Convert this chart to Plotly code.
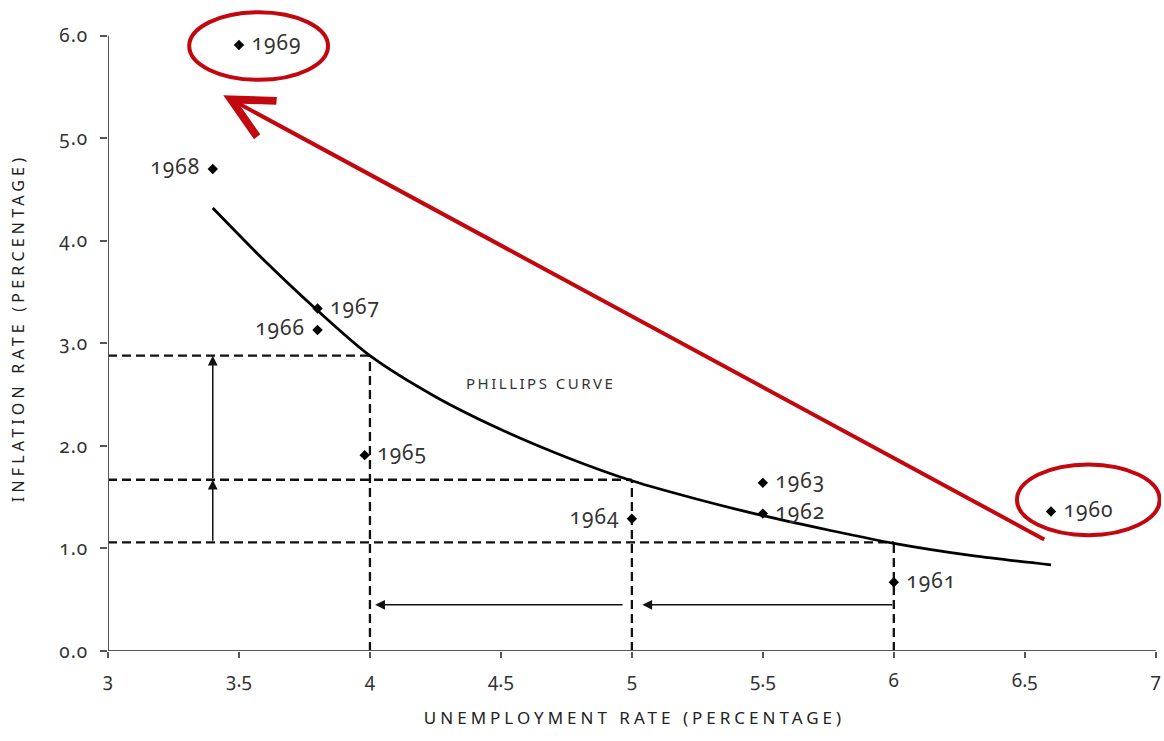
import plotly.graph_objects as go

# ---- data ----
years = ["1960", "1961", "1962", "1963", "1964", "1965", "1966", "1967", "1968", "1969"]
unemployment = [6.6, 6.0, 5.5, 5.5, 5.0, 3.98, 3.8, 3.8, 3.4, 3.5]
inflation = [1.36, 0.67, 1.34, 1.64, 1.29, 1.91, 3.13, 3.34, 4.70, 5.91]
label_side = ["middle right", "middle right", "middle right", "middle right", "middle left",
              "middle right", "middle left", "middle right", "middle left", "middle right"]

curve_u = [3.4, 3.6, 3.8, 4.0, 4.25, 4.5, 4.75, 5.0, 5.25, 5.5, 5.75, 6.0, 6.3, 6.6]
curve_pi = [4.32, 3.80, 3.32, 2.88, 2.48, 2.16, 1.89, 1.66, 1.48, 1.32, 1.18, 1.05, 0.93, 0.84]

guide_u = [4.0, 5.0, 6.0]
guide_pi = [2.88, 1.67, 1.06]

x_ticks = [3, 3.5, 4, 4.5, 5, 5.5, 6, 6.5, 7]
x_tick_text = ["3", "3.5", "4", "4.5", "5", "5.5", "6", "6.5", "7"]
y_ticks = [0, 1, 2, 3, 4, 5, 6]
y_tick_text = ["0.0", "1.0", "2.0", "3.0", "4.0", "5.0", "6.0"]

RED = "#c3070f"
INK = "#333333"
FONT = "Noto Sans"
ONUM = "font-variant-numeric:oldstyle-nums"


def om(s, ls=0):
    return f'<span style="{ONUM};letter-spacing:{ls}px">{s}</span>'


fig = go.Figure()

# dashed guides
for u, p in zip(guide_u, guide_pi):
    fig.add_trace(go.Scatter(x=[3, u], y=[p, p], mode="lines",
                             line=dict(color="#111", width=2.3, dash="9px,5px"),
                             hoverinfo="skip", showlegend=False))
    fig.add_trace(go.Scatter(x=[u, u], y=[0, p], mode="lines",
                             line=dict(color="#111", width=2.3, dash="9px,5px"),
                             hoverinfo="skip", showlegend=False))

# Phillips curve
fig.add_trace(go.Scatter(x=curve_u, y=curve_pi, mode="lines",
                         line=dict(color="#000", width=2.8, shape="spline", smoothing=0.8),
                         hoverinfo="skip", showlegend=False))

# data points
fig.add_trace(go.Scatter(
    x=unemployment, y=inflation, mode="markers+text",
    marker=dict(symbol="diamond", size=8, color="#000"),
    text=[om("&nbsp;" + y + "&nbsp;", 1) for y in years],
    textposition=label_side,
    textfont=dict(family=FONT, size=21, color=INK),
    cliponaxis=False, showlegend=False))

# axis lines
shapes = [
    dict(type="line", xref="x", yref="y", x0=3, x1=7, y0=0, y1=0,
         line=dict(color="#555", width=2)),
    dict(type="line", xref="x", yref="y", x0=3, x1=3, y0=0, y1=6,
         line=dict(color="#555", width=2)),
    # red ellipses
    dict(type="circle", xref="x", yref="y", x0=3.31, x1=3.84, y0=5.57, y1=6.23,
         line=dict(color=RED, width=4)),
    dict(type="circle", xref="x", yref="y", x0=6.47, x1=7.015, y0=1.13, y1=1.82,
         line=dict(color=RED, width=4)),
]

annotations = []
# black arrows
arrow_specs = [
    (3.4, 1.67, 3.4, 1.06),
    (3.4, 2.88, 3.4, 1.67),
    (4.02, 0.45, 4.97, 0.45),
    (5.04, 0.45, 6.0, 0.45),
]
for x, y, ax, ay in arrow_specs:
    annotations.append(dict(x=x, y=y, ax=ax, ay=ay, xref="x", yref="y", axref="x", ayref="y",
                            text="", showarrow=True, arrowhead=2, arrowsize=1.3,
                            arrowwidth=1.5, arrowcolor="#111", standoff=0))
# red arrow
annotations.append(dict(x=3.44, y=5.42, ax=6.58, ay=1.08, xref="x", yref="y", axref="x", ayref="y",
                        text="", showarrow=True, arrowhead=5, arrowsize=2.0,
                        arrowwidth=4, arrowcolor=RED, standoff=0))
# curve label
annotations.append(dict(x=4.65, y=2.61, xref="x", yref="y", showarrow=False,
                        text='<span style="letter-spacing:2.5px">PHILLIPS CURVE</span>',
                        font=dict(family=FONT, size=15, color=INK)))

fig.update_layout(
    width=1164, height=741,
    margin=dict(l=108, r=3, t=5, b=90),
    paper_bgcolor="white", plot_bgcolor="white",
    shapes=shapes, annotations=annotations,
    xaxis=dict(range=[3, 7.02], showgrid=False, zeroline=False, showline=False,
               automargin=False,
               tickvals=x_ticks, ticktext=[om(t) for t in x_tick_text],
               ticks="outside", ticklen=6, tickwidth=1.5, tickcolor="#555",
               ticklabelstandoff=6,
               tickfont=dict(family=FONT, size=19, color=INK),
               title=dict(text='<span style="letter-spacing:4px">UNEMPLOYMENT RATE (PERCENTAGE)</span>',
                          font=dict(family=FONT, size=17, color="#222"), standoff=20)),
    yaxis=dict(range=[0, 6.3], showgrid=False, zeroline=False, showline=False,
               automargin=False,
               tickvals=y_ticks, ticktext=[om(t, 1) for t in y_tick_text],
               ticks="outside", ticklen=7, tickwidth=1.5, tickcolor="#555",
               ticklabelstandoff=8,
               tickfont=dict(family=FONT, size=19, color=INK),
               title=dict(text='<span style="letter-spacing:4.2px">INFLATION RATE (PERCENTAGE)</span>',
                          font=dict(family=FONT, size=16, color="#222"), standoff=30)),
)

fig.write_html("out.html", config={"displayModeBar": False},
               post_script="document.body.style.margin='0';document.body.style.overflow='hidden';")
